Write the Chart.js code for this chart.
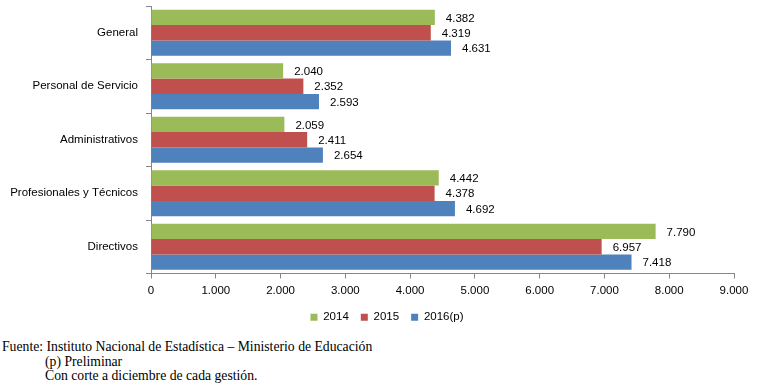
<!DOCTYPE html>
<html>
<head>
<meta charset="utf-8">
<script src="https://cdn.jsdelivr.net/npm/chart.js@4.4.1/dist/chart.umd.min.js"></script>
<style>
  html, body { margin: 0; padding: 0; background: #fff; }
  #wrap { position: absolute; left: 0; top: 0; width: 764px; height: 337px; }
  #notes { position: absolute; left: 2px; top: 340px; font-family: "Liberation Serif", "Times New Roman", serif; font-size: 13.7px; color: #000; line-height: 14.5px; }
  #notes .ind { padding-left: 43px; }
</style>
</head>
<body>
<div id="wrap"><canvas id="c"></canvas></div>
<div id="notes">
  <div>Fuente: Instituto Nacional de Estadística – Ministerio de Educación</div>
  <div class="ind">(p) Preliminar</div>
  <div class="ind">Con corte a diciembre de cada gestión.</div>
</div>
<script>
const categories = ["General", "Personal de Servicio", "Administrativos", "Profesionales y Técnicos", "Directivos"];
const seriesNames = ["2014", "2015", "2016(p)"];
const values2014 = [4382, 2040, 2059, 4442, 7790];
const values2015 = [4319, 2352, 2411, 4378, 6957];
const values2016 = [4631, 2593, 2654, 4692, 7418];
const xTicks = [0, 1000, 2000, 3000, 4000, 5000, 6000, 7000, 8000, 9000];
const colors = ["#9BBB59", "#C0504D", "#4F81BD"];

function fmt(v) {
  return String(Math.round(v)).replace(/\B(?=(\d{3})+(?!\d))/g, ".");
}

const FONT = "'Liberation Sans', Arial, sans-serif";

const labelPlugin = {
  id: 'valueLabels',
  afterDatasetsDraw(chart) {
    const ctx = chart.ctx;
    ctx.save();
    ctx.font = "11.5px " + FONT;
    ctx.fillStyle = "#000";
    ctx.textAlign = "left";
    ctx.textBaseline = "middle";
    chart.data.datasets.forEach((ds, i) => {
      const meta = chart.getDatasetMeta(i);
      meta.data.forEach((bar, j) => {
        ctx.fillText(fmt(ds.data[j]), bar.x + 11, bar.y + 1);
      });
    });
    ctx.restore();
  }
};

new Chart(document.getElementById('c'), {
  type: 'bar',
  data: {
    labels: categories,
    datasets: [
      { label: seriesNames[0], data: values2014, backgroundColor: colors[0] },
      { label: seriesNames[1], data: values2015, backgroundColor: colors[1] },
      { label: seriesNames[2], data: values2016, backgroundColor: colors[2] }
    ]
  },
  options: {
    indexAxis: 'y',
    responsive: true,
    maintainAspectRatio: false,
    animation: false,
    categoryPercentage: 0.86,
    barPercentage: 1.0,
    layout: { padding: { left: 10, right: 0, top: 6, bottom: 4 } },
    plugins: {
      legend: {
        position: 'bottom',
        labels: {
          font: { family: FONT, size: 11.5 },
          color: "#000",
          boxWidth: 7,
          boxHeight: 7,
          padding: 12
        }
      },
      tooltip: { enabled: false }
    },
    scales: {
      y: {
        offset: true,
        grid: { offset: true, drawOnChartArea: false, drawTicks: true, tickLength: 5, color: "#868686" },
        border: { display: true, color: "#868686" },
        ticks: { font: { family: FONT, size: 11.5 }, color: "#000", padding: 8 },
        afterFit(scale) { scale.width = 141; scale.paddingTop = 0; scale.paddingBottom = 0; }
      },
      x: {
        min: 0, max: 9000,
        afterBuildTicks(scale) { scale.ticks = xTicks.map(v => ({ value: v })); },
        grid: { drawOnChartArea: false, drawTicks: true, tickLength: 5, color: "#868686" },
        border: { display: true, color: "#868686" },
        ticks: { font: { family: FONT, size: 11.5 }, color: "#000", padding: 5, callback: (v) => fmt(v), maxRotation: 0 },
        afterFit(scale) { scale.height = 26; scale.paddingLeft = 0; scale.paddingRight = 30; }
      }
    }
  },
  plugins: [labelPlugin]
});
</script>
</body>
</html>
